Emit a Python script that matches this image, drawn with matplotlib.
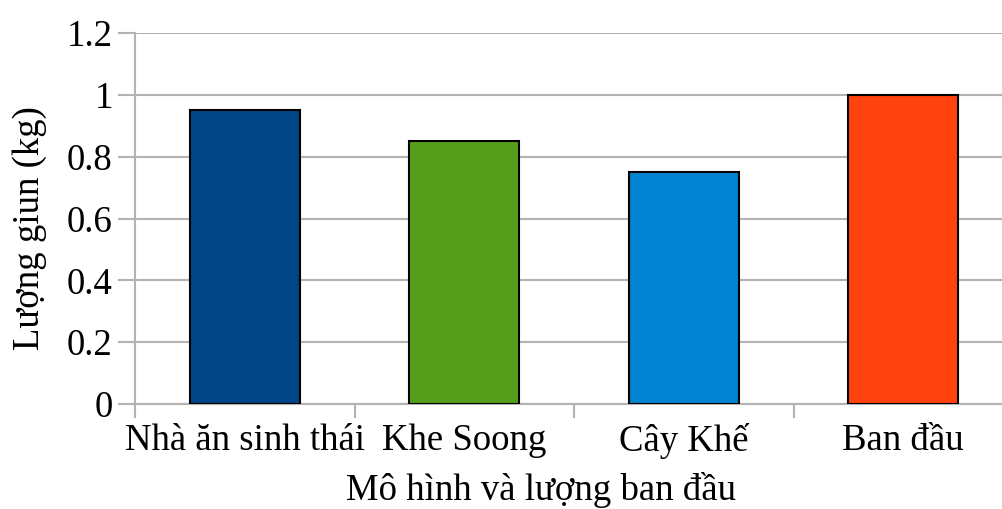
import matplotlib
matplotlib.use("Agg")
import matplotlib.pyplot as plt

categories = ["Nhà ăn sinh thái", "Khe Soong", "Cây Khế", "Ban đầu"]
values = [0.95, 0.85, 0.75, 1.0]
colors = ["#004586", "#579d1c", "#0084d1", "#ff420e"]
yticks = [0, 0.2, 0.4, 0.6, 0.8, 1.0, 1.2]
ytick_labels = ["0", "0.2", "0.4", "0.6", "0.8", "1", "1.2"]

plt.rcParams["font.family"] = ["Liberation Serif", "DejaVu Serif"]
FS = 26.5

W, H = 1003, 509
fig = plt.figure(figsize=(W / 100, H / 100), dpi=100)
left, right, top, bottom = 135, 1013, 33, 404
ax = fig.add_axes([left / W, 1 - bottom / H, (right - left) / W, (bottom - top) / H])

x = list(range(len(categories)))
ax.bar(x, values, width=0.5, color=colors, edgecolor="black", linewidth=1.5, zorder=3)

ax.set_xlim(-0.5, len(categories) - 0.5)
ax.set_ylim(0, 1.2)
ax.set_yticks(yticks)
ax.set_yticklabels(ytick_labels, fontsize=FS)
ax.grid(axis="y", color="#b3b3b3", linewidth=1.5, zorder=0)

# Category labels centered, tick marks on category boundaries
ax.set_xticks(x)
ax.set_xticklabels(categories, fontsize=FS)
ax.tick_params(axis="x", length=0, pad=14)
ax.set_xticks([i - 0.5 for i in range(len(categories) + 1)], minor=True)
ax.tick_params(axis="x", which="minor", length=10, width=1.5, color="#b3b3b3")
ax.tick_params(axis="y", length=12, width=1.5, color="#b3b3b3", pad=4)

for side in ["top", "right"]:
    ax.spines[side].set_visible(False)
ax.spines["left"].set_color("#b3b3b3")
ax.spines["left"].set_linewidth(1.5)
ax.spines["bottom"].set_color("#b3b3b3")
ax.spines["bottom"].set_linewidth(1.5)

fig.text(30 / W, 1 - 228 / H, "Lượng giun (kg)", rotation=90, fontsize=FS,
         ha="center", va="center")
fig.text(541 / W, 1 - 490 / H, "Mô hình và lượng ban đầu", fontsize=FS,
         ha="center", va="center")

fig.savefig("out.png", dpi=100)
